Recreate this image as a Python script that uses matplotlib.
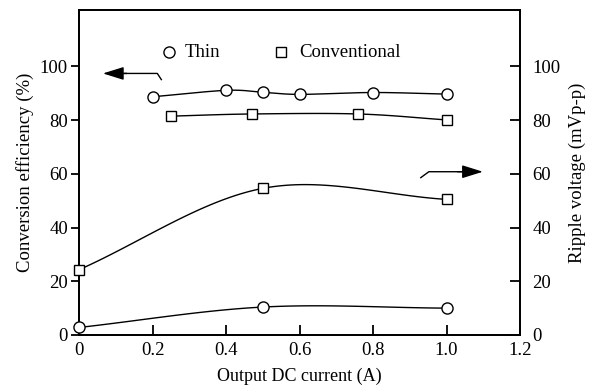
import numpy as np
import matplotlib
matplotlib.use("Agg")
import matplotlib.pyplot as plt

plt.rcParams["font.family"] = ["Liberation Serif", "DejaVu Serif"]

# efficiency (%)
thin_eff_x = [0.2, 0.4, 0.5, 0.6, 0.8, 1.0]
thin_eff_y = [88.7, 91.1, 90.4, 89.6, 90.3, 89.7]
conv_eff_x = [0.25, 0.47, 0.76, 1.0]
conv_eff_y = [81.5, 82.3, 82.3, 80.1]

# ripple voltage (mVp-p)
thin_rip_x = [0.0, 0.5, 1.0]
thin_rip_y = [2.8, 10.4, 10.0]
conv_rip_x = [0.0, 0.5, 1.0]
conv_rip_y = [24.3, 54.6, 50.5]

x_ticks = [0, 0.2, 0.4, 0.6, 0.8, 1.0, 1.2]
x_tick_labels = ["0", "0.2", "0.4", "0.6", "0.8", "1.0", "1.2"]
y_ticks = [0, 20, 40, 60, 80, 100]


def smooth(xs, ys, n=40):
    # catmull-rom curve through the points, only for the drawn line
    xs = np.asarray(xs, float)
    ys = np.asarray(ys, float)
    px = np.concatenate([[2 * xs[0] - xs[1]], xs, [2 * xs[-1] - xs[-2]]])
    py = np.concatenate([[2 * ys[0] - ys[1]], ys, [2 * ys[-1] - ys[-2]]])
    out_x, out_y = [], []
    t = np.linspace(0, 1, n)
    for i in range(1, len(px) - 2):
        for p, out in ((px, out_x), (py, out_y)):
            p0, p1, p2, p3 = p[i - 1], p[i], p[i + 1], p[i + 2]
            out.extend(0.5 * ((2 * p1) + (-p0 + p2) * t
                              + (2 * p0 - 5 * p1 + 4 * p2 - p3) * t ** 2
                              + (-p0 + 3 * p1 - 3 * p2 + p3) * t ** 3))
    return out_x, out_y


fig = plt.figure(figsize=(5.96, 3.87), dpi=100)
ax = fig.add_axes([0.1326, 0.1344, 0.7399, 0.8396])
ax2 = ax.twinx()

circ = dict(marker="o", markersize=8, markerfacecolor="white",
            markeredgecolor="black", markeredgewidth=1.0, linestyle="none", zorder=5)
sq = dict(marker="s", markersize=7, markerfacecolor="white",
          markeredgecolor="black", markeredgewidth=1.0, linestyle="none", zorder=5)

for xs, ys, m in [(thin_eff_x, thin_eff_y, circ), (conv_eff_x, conv_eff_y, sq)]:
    cx, cy = smooth(xs, ys)
    ax.plot(cx, cy, color="black", lw=1.0)
    ax.plot(xs, ys, **m)

for xs, ys, m in [(thin_rip_x, thin_rip_y, circ), (conv_rip_x, conv_rip_y, sq)]:
    cx, cy = smooth(xs, ys)
    ax2.plot(cx, cy, color="black", lw=1.0, clip_on=False)
    ax2.plot(xs, ys, clip_on=False, **m)

for a in (ax, ax2):
    a.set_xlim(0, 1.2)
    a.set_ylim(0, 121)
    a.set_yticks(y_ticks)
    for s in a.spines.values():
        s.set_linewidth(1.3)

fs = 13.5
ax.set_xticks(x_ticks)
ax.set_xticklabels(x_tick_labels)
ax.tick_params(axis="x", direction="in", length=7, width=1.3, labelsize=fs, pad=5)
ax.tick_params(axis="y", direction="out", length=6, width=1.3, labelsize=fs, pad=2)
ax2.tick_params(axis="y", direction="in", length=7, width=1.3, labelsize=fs, pad=9)

ax.set_xlabel("Output DC current (A)", fontsize=13, labelpad=6.5)
ax.set_ylabel("Conversion efficiency (%)", fontsize=fs, labelpad=4)
ax2.set_ylabel("Ripple voltage (mVp-p)", fontsize=fs, labelpad=6)

# legend
ax.plot([0.244], [105.2], **circ)
ax.text(0.288, 105.2, "Thin", fontsize=fs, va="center")
ax.plot([0.55], [105.2], **sq)
ax.text(0.6, 105.2, "Conventional", fontsize=fs, va="center")

# axis arrows
ax.plot([0.224, 0.213, 0.12], [95.1, 97.4, 97.4], color="black", lw=1.0)
ax.annotate("", xy=(0.065, 97.4), xytext=(0.13, 97.4),
            arrowprops=dict(arrowstyle="-|>,head_length=0.8,head_width=0.25",
                            color="black", lw=1.0,
                            mutation_scale=16, shrinkA=0, shrinkB=0))
ax.plot([0.93, 0.952, 1.04], [58.6, 60.8, 60.8], color="black", lw=1.0)
ax.annotate("", xy=(1.099, 60.8), xytext=(1.03, 60.8),
            arrowprops=dict(arrowstyle="-|>,head_length=0.8,head_width=0.25",
                            color="black", lw=1.0,
                            mutation_scale=16, shrinkA=0, shrinkB=0))

fig.savefig("out.png", dpi=100)
